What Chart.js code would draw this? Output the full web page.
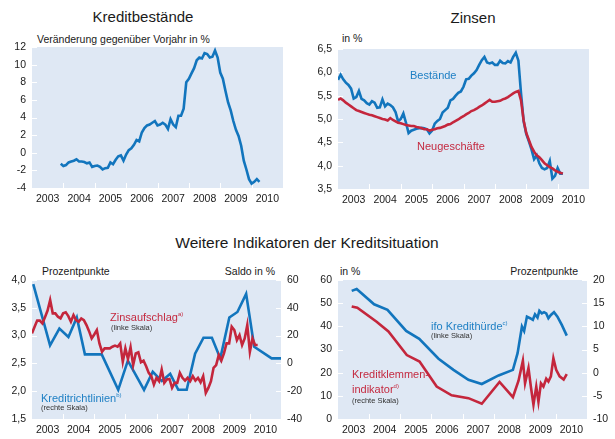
<!DOCTYPE html>
<html lang="de">
<head>
<meta charset="UTF-8">
<title>Kreditsituation</title>
<script src="https://cdn.jsdelivr.net/npm/chart.js"></script>
<style>
  body { margin: 0; background: #fff; font-family: "Liberation Sans", Arial, sans-serif; color: #1a1a1a; }
  #page { position: relative; width: 615px; height: 439px; overflow: hidden; }
  canvas { position: absolute; }
  .t { position: absolute; white-space: nowrap; line-height: 1; }
  .title { font-size: 15px; text-align: center; }
  .ax { font-size: 10.5px; }
  .blue { color: #1d7fc4; font-size: 11px; }
  .red { color: #c42a40; font-size: 11px; }
  .note { font-size: 7.5px; color: #333; }
  sup { font-size: 6px; vertical-align: 5px; }
</style>
</head>
<body>
<div id="page">
  <div class="t title" style="left:43px; top:9px; width:200px;">Kreditbestände</div>
  <div class="t title" style="left:373px; top:10px; width:200px;">Zinsen</div>
  <div class="t title" style="left:107px; top:235px; width:400px; font-size:15.5px;">Weitere Indikatoren der Kreditsituation</div>

  <div class="t ax" style="left:37px; top:34px;">Veränderung gegenüber Vorjahr in %</div>
  <div class="t ax" style="left:342px; top:33px;">in %</div>
  <div class="t ax" style="left:42px; top:266px;">Prozentpunkte</div>
  <div class="t ax" style="right:340px; top:266px;">Saldo in %</div>
  <div class="t ax" style="left:340px; top:266px;">in %</div>
  <div class="t ax" style="right:37px; top:266px;">Prozentpunkte</div>

  <canvas id="c1" width="307" height="215" style="left:0; top:0;"></canvas>
  <canvas id="c2" width="308" height="215" style="left:307px; top:0;"></canvas>
  <canvas id="c3" width="307" height="184" style="left:0; top:255px;"></canvas>
  <canvas id="c4" width="308" height="184" style="left:307px; top:255px;"></canvas>

  <div class="t blue" style="left:410px; top:70px;">Bestände</div>
  <div class="t red" style="left:417px; top:141px;">Neugeschäfte</div>

  <div class="t red" style="left:110px; top:311px;">Zinsaufschlag<sup>a)</sup></div>
  <div class="t note" style="left:111px; top:324px;">(linke Skala)</div>
  <div class="t blue" style="left:41px; top:392px;">Kreditrichtlinien<sup>b)</sup></div>
  <div class="t note" style="left:41px; top:404px;">(rechte Skala)</div>

  <div class="t blue" style="left:431px; top:320px;">ifo Kredithürde<sup>c)</sup></div>
  <div class="t note" style="left:431px; top:332px;">(linke Skala)</div>
  <div class="t red" style="left:352px; top:369px;">Kreditklemmen-</div>
  <div class="t red" style="left:352px; top:383px;">indikator<sup>d)</sup></div>
  <div class="t note" style="left:352px; top:397px;">(rechte Skala)</div>
</div>

<script>
// ---- data ----
const years = [2003, 2004, 2005, 2006, 2007, 2008, 2009, 2010];

// Kreditbestände, monthly from Dec 2003
const kreditStart = 2003 + 11 / 12;
const kreditValues = [-1.25, -1.5, -1.4, -1.1, -1.0, -0.9, -0.75, -1.0, -1.0, -1.05, -1.2, -1.1,
  -1.6, -1.5, -1.45, -1.6, -1.9, -1.75, -1.7, -1.1, -1.3, -0.8, -0.4, -0.3,
  -0.9, -0.2, 0.3, 0.5, 0.9, 1.45, 1.3, 2.3, 2.8, 3.1, 3.2, 3.4,
  3.6, 3.1, 3.2, 3.4, 3.2, 2.7, 3.8, 3.2, 2.9, 4.2, 4.2, 5.0,
  8.0, 8.4, 9.0, 9.6, 10.5, 10.8, 10.7, 11.3, 11.2, 10.8, 10.9, 11.6,
  10.8, 9.1, 8.4, 7.0, 5.7, 4.8, 3.6, 2.6, 1.9, 0.8, -0.9, -1.9,
  -3.0, -3.5, -3.3, -3.0, -3.3];

// Zinsen, monthly from Jan 2003
const zinsStart = 2003;
const bestaende = [5.84, 5.95, 5.85, 5.78, 5.73, 5.65, 5.44, 5.47, 5.60, 5.43, 5.40, 5.34,
  5.31, 5.38, 5.35, 5.24, 5.25, 5.42, 5.27, 5.33, 5.30, 5.25, 5.15, 4.95,
  5.00, 5.12, 4.92, 4.70, 4.75, 4.77, 4.79, 4.80, 4.81, 4.80, 4.78, 4.69,
  4.75, 4.90, 4.96, 5.00, 5.14, 5.19, 5.24, 5.40, 5.43, 5.50, 5.56, 5.59,
  5.69, 5.85, 5.86, 5.93, 5.98, 6.05, 6.16, 6.26, 6.33, 6.21, 6.19, 6.21,
  6.16, 6.16, 6.25, 6.20, 6.19, 6.24, 6.21, 6.33, 6.42, 6.25, 5.55, 4.95,
  4.68, 4.52, 4.35, 4.14, 4.22, 4.05, 3.95, 3.92, 3.95, 4.10, 3.72, 3.78,
  3.95, 3.83, 3.83];
const neugeschaefte = [5.41, 5.44, 5.40, 5.35, 5.31, 5.27, 5.23, 5.19, 5.17, 5.15, 5.13, 5.11,
  5.09, 5.08, 5.06, 5.04, 5.02, 5.00, 4.99, 4.97, 5.02, 4.98, 4.95, 4.92,
  4.91, 4.89, 4.87, 4.86, 4.85, 4.85, 4.83, 4.82, 4.80, 4.78, 4.78, 4.75,
  4.77, 4.78, 4.80, 4.81, 4.83, 4.85, 4.88, 4.89, 4.93, 4.96, 4.99, 5.03,
  5.06, 5.10, 5.13, 5.17, 5.19, 5.22, 5.26, 5.29, 5.33, 5.37, 5.41, 5.37,
  5.37, 5.38, 5.39, 5.42, 5.44, 5.47, 5.51, 5.55, 5.58, 5.60, 5.40, 4.97,
  4.70, 4.55, 4.40, 4.30, 4.22, 4.18, 4.12, 4.05, 4.01, 3.97, 3.94, 3.90,
  3.87, 3.85, 3.83];

// Zinsaufschlag (left scale), monthly from Jan 2003
const aufschlagStart = 2003;
const zinsaufschlag = [3.04, 3.16, 3.27, 3.27, 3.22, 3.33, 3.45, 3.64, 3.40, 3.40, 3.34, 3.31,
  3.40, 3.42, 3.35, 3.25, 3.37, 3.28, 3.25, 3.31, 3.28, 3.19, 3.08, 2.95,
  3.02, 3.10, 2.86, 2.71, 2.77, 2.77, 2.77, 2.80, 2.82, 2.80, 2.86, 2.53,
  2.77, 2.58, 2.79, 2.47, 2.68, 2.70, 2.52, 2.55, 2.45, 2.33, 2.27, 2.12,
  2.24, 2.18, 2.39, 2.15, 2.21, 2.22, 2.06, 2.15, 2.15, 2.33, 2.24, 2.19,
  2.24, 2.18, 2.27, 2.19, 2.24, 2.16, 2.27, 1.97, 2.06, 2.18, 2.42, 2.47,
  2.65, 2.55, 2.68, 2.86, 2.86, 3.16, 3.10, 2.92, 3.01, 2.83, 2.95, 3.19,
  2.71, 2.95, 2.83, 2.83];

// Kreditrichtlinien (right scale), survey dates
const richtDates = [2003.04, 2003.58, 2003.88, 2004.17, 2004.44, 2004.70, 2005.24, 2005.77, 2006.08,
  2006.60, 2006.88, 2007.17, 2007.44, 2007.70, 2007.97, 2008.24, 2008.51, 2008.78, 2009.05,
  2009.34, 2009.60, 2009.88, 2010.14, 2010.70, 2011.0];
const richtValues = [57, 13, 25, 19, 33, 6.5, 6.5, -19, 2, -19, -6, -12.7, -7.5, -19, -19,
  7, 18.5, 18.5, 3.6, 33, 37, 50, 12, 3.6, 3.6];

// ifo Kredithürde (left scale)
const ifoDates = [2003.44, 2003.60, 2004.16, 2004.59, 2005.19, 2005.61, 2006.23, 2006.71, 2007.19,
  2007.62, 2008.16, 2008.62, 2008.77, 2008.91, 2008.98, 2009.07, 2009.17, 2009.26, 2009.33,
  2009.41, 2009.47, 2009.55, 2009.62, 2009.69, 2009.76, 2009.84, 2009.94, 2010.05, 2010.19, 2010.35];
const ifoValues = [55.3, 56.1, 49.5, 47.1, 38.0, 34.6, 26.0, 21.2, 16.9, 15.1, 18.8, 21.2, 28.4,
  39.9, 38.0, 44.2, 43.5, 42.8, 45.2, 43.8, 46.7, 45.6, 46.1, 45.6, 43.5, 44.9, 46.1, 44.2, 40.6, 36.0];

// Kreditklemmenindikator (right scale)
const klemmeDates = [2003.44, 2003.62, 2004.24, 2004.62, 2005.21, 2005.62, 2006.17, 2006.65, 2007.19,
  2007.62, 2008.19, 2008.62, 2008.80, 2008.94, 2009.01, 2009.12, 2009.20, 2009.28, 2009.37,
  2009.44, 2009.52, 2009.60, 2009.69, 2009.76, 2009.84, 2009.92, 2010.01, 2010.12, 2010.25, 2010.35];
const klemmeValues = [14.3, 14.0, 11.0, 8.9, 3.8, 2.4, -3.0, -4.9, -5.5, -6.7, -2.0, -5.3, -1.75,
  2.6, -2.3, 1.0, -3.2, -6.9, -3.0, -6.3, -2.3, -3.0, -1.3, -1.9, -0.8, 3.1, 0.6, -0.8, -1.5, -0.3];

// ---- style ----
const BLUE = '#1275bd';
const RED = '#c4263c';
const PLOT_BG = '#dfe8f4';
const TICK_COLOR = '#1a1a1a';

Chart.defaults.font.family = '"Liberation Sans", Arial, sans-serif';
Chart.defaults.font.size = 10.5;
Chart.defaults.color = TICK_COLOR;

function monthly(start, values) {
  return values.map((v, i) => ({ x: start + i / 12, y: v }));
}
function paired(dates, values) {
  return values.map((v, i) => ({ x: dates[i], y: v }));
}
function comma(v) {
  return v.toFixed(1).replace('.', ',');
}

// light panel and the short white ticks inside its frame
const panelBg = {
  id: 'panelBg',
  beforeDraw(chart) {
    const { ctx, chartArea: a } = chart;
    ctx.save();
    ctx.fillStyle = PLOT_BG;
    ctx.fillRect(a.left, a.top, a.right - a.left, a.bottom - a.top);
    ctx.restore();
  },
  beforeDatasetsDraw(chart) {
    const { ctx, chartArea: a, scales } = chart;
    ctx.save();
    ctx.strokeStyle = '#ffffff';
    ctx.lineWidth = 1;
    ctx.beginPath();
    Object.values(scales).forEach(s => {
      if (s.axis === 'y') {
        s.ticks.forEach(t => {
          const y = Math.round(s.getPixelForValue(t.value)) + 0.5;
          if (s.position === 'left') { ctx.moveTo(a.left, y); ctx.lineTo(a.left + 5, y); }
          else { ctx.moveTo(a.right - 5, y); ctx.lineTo(a.right, y); }
        });
      } else {
        years.slice(1).forEach(yr => {
          const x = Math.round(s.getPixelForValue(yr)) + 0.5;
          ctx.moveTo(x, a.bottom);
          ctx.lineTo(x, a.bottom - 5);
        });
      }
    });
    ctx.stroke();
    ctx.restore();
  }
};

function xAxis(height) {
  return {
    type: 'linear', min: 2003, max: 2011,
    afterBuildTicks: s => { s.ticks = years.map(y => ({ value: y + 0.5 })); },
    afterFit: s => { s.height = height; },
    ticks: { callback: v => String(Math.floor(v)), maxRotation: 0, autoSkip: false, padding: 5 },
    grid: { display: false, drawTicks: false },
    border: { display: false }
  };
}

function yAxis(pos, width, min, max, step, fmt) {
  return {
    type: 'linear', position: pos, min: min, max: max,
    afterFit: s => { s.width = width; },
    ticks: { stepSize: step, callback: fmt, padding: 6 },
    grid: { display: false, drawTicks: false },
    border: { display: false }
  };
}

function line(data, color, axis) {
  return {
    data: data, borderColor: color, borderWidth: 2.6, pointRadius: 0,
    tension: 0, fill: false, yAxisID: axis || 'y'
  };
}

const common = {
  responsive: false,
  animation: false,
  events: [],
  plugins: { legend: { display: false }, tooltip: { enabled: false } }
};

new Chart(document.getElementById('c1'), {
  type: 'line',
  data: { datasets: [line(monthly(kreditStart, kreditValues), BLUE)] },
  options: Object.assign({}, common, {
    layout: { padding: { top: 47, right: 24, left: 0, bottom: 0 } },
    scales: { x: xAxis(27), y: yAxis('left', 32, -4, 12, 2, v => String(v)) }
  }),
  plugins: [panelBg]
});

new Chart(document.getElementById('c2'), {
  type: 'line',
  data: {
    datasets: [
      line(monthly(zinsStart, neugeschaefte), RED),
      line(monthly(zinsStart, bestaende), BLUE)
    ]
  },
  options: Object.assign({}, common, {
    layout: { padding: { top: 49, right: 26, left: 0, bottom: 0 } },
    scales: { x: xAxis(26), y: yAxis('left', 31, 3.5, 6.5, 0.5, comma) }
  }),
  plugins: [panelBg]
});

new Chart(document.getElementById('c3'), {
  type: 'line',
  data: {
    datasets: [
      line(monthly(aufschlagStart, zinsaufschlag), RED, 'y'),
      line(paired(richtDates, richtValues), BLUE, 'y2')
    ]
  },
  options: Object.assign({}, common, {
    layout: { padding: { top: 25, right: 0, left: 0, bottom: 0 } },
    scales: {
      x: xAxis(20),
      y: yAxis('left', 32, 1.5, 4.0, 0.5, comma),
      y2: yAxis('right', 26, -40, 60, 20, v => String(v))
    }
  }),
  plugins: [panelBg]
});

new Chart(document.getElementById('c4'), {
  type: 'line',
  data: {
    datasets: [
      line(paired(klemmeDates, klemmeValues), RED, 'y2'),
      line(paired(ifoDates, ifoValues), BLUE, 'y')
    ]
  },
  options: Object.assign({}, common, {
    layout: { padding: { top: 25, right: 0, left: 0, bottom: 0 } },
    scales: {
      x: xAxis(20),
      y: yAxis('left', 31, 0, 60, 10, v => String(v)),
      y2: yAxis('right', 28, -10, 20, 5, v => String(v))
    }
  }),
  plugins: [panelBg]
});
</script>
</body>
</html>
